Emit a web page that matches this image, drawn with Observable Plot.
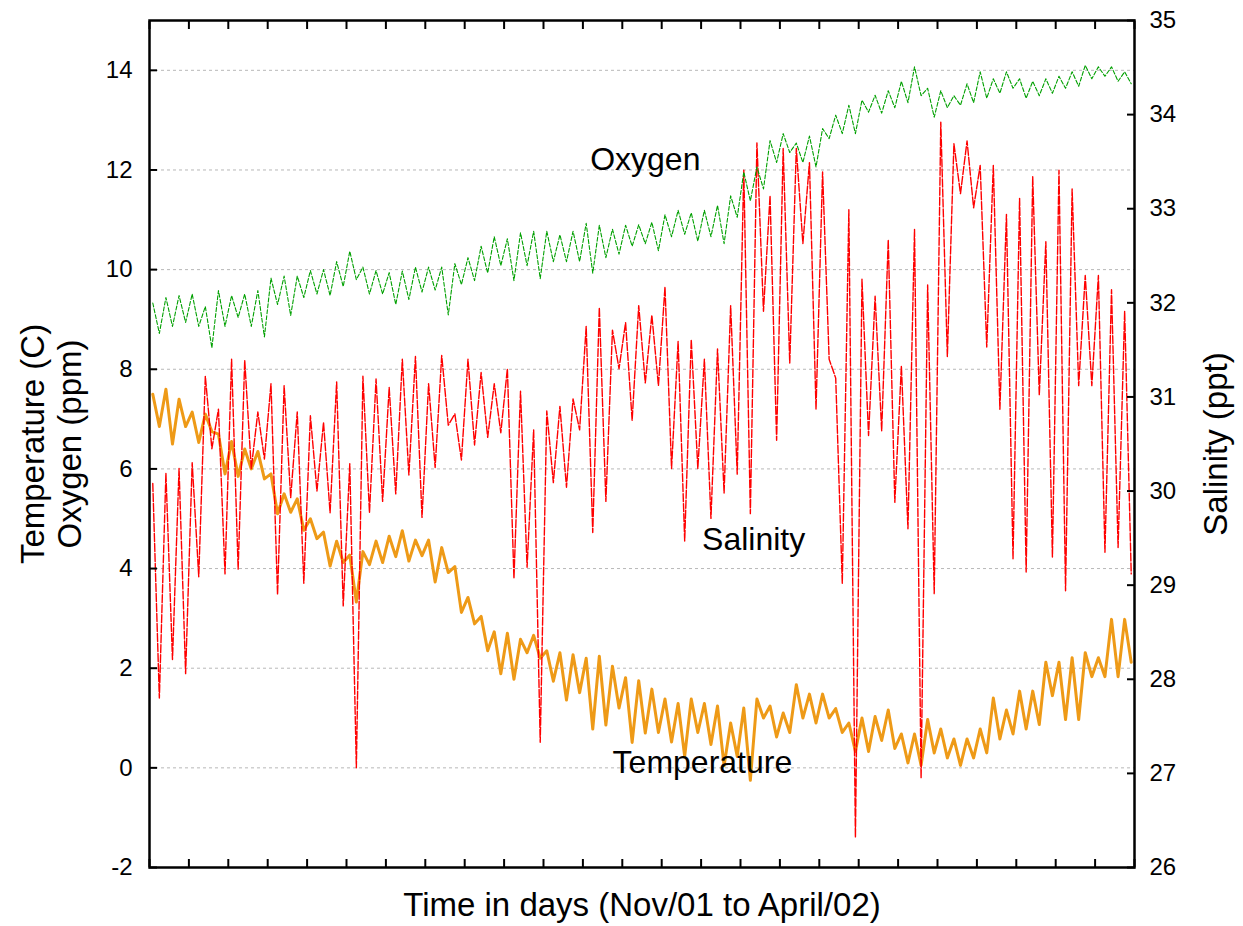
<!DOCTYPE html>
<html><head><meta charset="utf-8">
<script src="https://cdn.jsdelivr.net/npm/d3@7"></script>
<script src="https://cdn.jsdelivr.net/npm/@observablehq/plot@0.6"></script>
<style>
body{margin:0;background:#fff;font-family:"Liberation Sans",Arial,sans-serif}
#chart svg{overflow:visible}
</style>
</head><body><div id="chart"></div>
<script>
// Two-day sampling bins, days since Nov 1 2001
const binDay = [0,2,4,6,8,10,12,14,16,18,20,22,24,26,28,30,32,34,36,38,40,42,44,46,48,50,52,54,56,58,
  60,62,64,66,68,70,72,74,76,78,80,82,84,86,88,90,92,94,96,98,100,102,104,106,108,110,112,114,116,118,
  120,122,124,126,128,130,132,134,136,138,140,142,144,146,148];

// Temperature (C): high / low within each bin
const tempHi = [7.5,7.6,7.4,7.14,7.1,6.7,6.55,6.4,6.35,5.9,
  5.5,5.4,5.0,4.73,4.55,4.27,4.34,4.55,4.65,4.76,
  4.57,4.57,4.42,4.04,3.42,3.04,2.73,2.7,2.58,2.66,
  2.35,2.31,2.27,2.2,2.24,2.04,1.81,1.75,1.58,1.38,
  1.29,1.38,1.29,1.24,0.9,1.2,1.38,1.24,1.1,1.67,
  1.48,1.48,1.19,0.9,1.0,1.03,1.16,0.68,0.68,0.97,
  0.78,0.58,0.58,0.78,1.4,1.16,1.54,1.54,2.12,2.12,
  2.21,2.31,2.21,2.98,2.98];
const tempLo = [6.85,6.5,6.85,6.53,6.75,5.9,5.85,6.0,5.8,5.1,
  5.13,4.77,4.6,4.05,4.12,3.33,4.08,4.12,4.24,4.15,
  4.26,3.73,3.92,3.12,2.89,2.35,1.89,1.78,2.31,2.2,
  1.74,1.36,1.51,0.78,0.86,1.2,0.51,0.7,0.71,0.52,
  0.23,0.71,0.47,0.04,0.23,-0.25,1.0,0.62,0.71,1.0,
  0.9,1.0,0.71,0.33,0.33,0.55,0.39,0.1,0.05,0.3,
  0.2,0.05,0.2,0.3,0.58,0.68,0.78,0.87,1.45,0.97,
  0.97,1.83,1.83,1.83,2.12];

// Oxygen (ppm)
const oxyHi = [9.33,9.44,9.48,9.51,9.26,9.58,9.48,9.51,9.58,9.83,
  9.87,9.87,9.98,10.0,10.16,10.37,10.05,9.98,9.94,9.97,
  10.05,10.05,10.05,10.12,10.24,10.47,10.66,10.62,10.74,10.77,
  10.77,10.7,10.77,10.93,10.89,10.81,10.89,10.9,10.95,11.1,
  11.19,11.14,11.19,11.29,11.48,11.96,12.06,12.59,12.73,12.54,
  12.68,12.83,13.1,13.3,13.4,13.5,13.59,13.78,14.07,13.64,
  13.59,13.49,13.73,13.97,13.83,13.97,13.83,13.78,13.83,13.88,
  13.97,14.1,14.07,14.07,13.97];
const oxyLo = [8.72,8.86,8.94,8.86,8.43,8.86,9.04,8.86,8.65,9.3,
  9.08,9.44,9.51,9.48,9.66,9.8,9.51,9.51,9.3,9.4,
  9.55,9.59,9.09,9.7,9.78,9.93,10.08,9.78,10.08,9.82,
  10.16,10.16,10.16,9.93,10.24,10.31,10.47,10.52,10.38,10.66,
  10.71,10.57,10.66,10.52,11.05,11.38,11.62,12.15,12.35,12.15,
  12.06,12.63,12.73,12.73,13.16,13.14,13.25,13.35,13.49,13.06,
  13.25,13.3,13.35,13.44,13.54,13.64,13.44,13.49,13.54,13.64,
  13.68,13.83,13.88,13.78,13.73];

// Salinity (ppt)
const salHi = [30.08,30.19,30.24,30.30,31.22,30.87,31.40,31.39,30.84,31.14,
  31.12,30.84,30.80,30.73,31.16,30.29,31.22,31.19,31.10,31.40,
  31.43,31.14,31.44,30.82,31.40,31.26,31.14,31.30,31.06,30.65,
  30.85,30.90,30.98,31.75,31.95,31.71,31.79,31.97,31.87,32.17,
  31.59,31.61,31.40,31.51,31.97,33.41,33.70,33.14,33.64,33.64,
  33.49,33.39,31.20,32.99,32.25,32.07,32.67,31.33,32.78,32.19,
  33.92,33.69,33.72,33.46,33.46,32.94,33.11,33.34,32.65,33.41,
  33.21,32.29,32.29,32.14,31.91];
const salLo = [27.80,28.21,28.06,29.09,30.45,29.12,29.17,30.24,30.34,28.90,
  29.93,29.02,30.00,29.77,28.78,27.06,29.77,29.89,29.97,30.17,
  29.72,30.25,30.70,30.33,30.49,30.57,30.62,29.07,29.19,27.33,
  30.09,30.04,30.65,29.56,29.89,31.30,30.75,31.15,31.12,30.24,
  29.47,30.24,29.71,29.98,30.18,29.76,31.91,30.54,31.36,32.63,
  30.87,31.40,29.02,26.32,30.59,30.64,29.88,29.60,26.95,28.91,
  31.43,33.16,33.01,31.53,30.87,29.28,29.14,31.02,29.30,28.94,
  31.12,31.12,29.35,29.40,29.12];

// Axes
const leftTicks = [-2,0,2,4,6,8,10,12,14];
const gridTicks = [0,2,4,6,8,10,12,14];
const salTicks = [26,27,28,29,30,31,32,33,34,35];
const dayTicks = [0,6,12,18,24,30,36,42,48,54,60,66,72,78,84,90,96,102,108,114,120,126,132,138,144,150];

// In-plot series labels
const labelNames = ["Oxygen","Salinity","Temperature"];
const labelDays = [75.5,92,84.2];
const labelValues = [12.2,4.58,0.1];

// Left scale (C / ppm) spans -2..15, right scale (ppt) spans 26..35
const toLeft = s => -2 + (s - 26) * 17 / 9;
const toSal = v => 26 + (v + 2) * 9 / 17;

// zigzag through the high and low read for each bin
const zig = (hi, lo) => binDay.flatMap((d, i) => [{day: d + 0.5, v: hi[i]}, {day: d + 1.5, v: lo[i]}]);
const temperature = zig(tempHi, tempLo);
const oxygen = zig(oxyHi, oxyLo);
const salinity = zig(salHi, salLo);
const labels = labelNames.map((name, i) => ({name, day: labelDays[i], value: labelValues[i]}));

const font = "'Liberation Sans', Arial, sans-serif";
const chart = Plot.plot({
  width: 1243,
  height: 926,
  marginLeft: 149,
  marginRight: 109,
  marginTop: 20,
  marginBottom: 59,
  style: {fontFamily: font, background: "#fff", color: "#000"},
  x: {domain: [0, 150], axis: null},
  y: {domain: [-2, 15], axis: null},
  marks: [
    Plot.gridY(gridTicks, {stroke: "#b8b8b8", strokeOpacity: 1, strokeDasharray: "3,3"}),
    Plot.line(temperature, {x: "day", y: "v", stroke: "#ee9a17", strokeWidth: 3}),
    Plot.line(salinity, {x: "day", y: d => toLeft(d.v), stroke: "#ff0000", strokeWidth: 1.4, strokeDasharray: "8,2"}),
    Plot.line(oxygen, {x: "day", y: "v", stroke: "#00a000", strokeWidth: 1.1, strokeDasharray: "4,2"}),
    Plot.text(labels, {x: "day", y: "value", text: "name", fontSize: 32, fill: "#000"}),
    Plot.frame({stroke: "#000", strokeWidth: 2.5}),
    // left axis: labels + inward ticks
    Plot.axisY(leftTicks, {anchor: "left", tickSize: 0, tickPadding: 17, fontSize: 24, label: null,
      tickFormat: v => String(v)}),
    Plot.axisY(leftTicks, {anchor: "left", tickSize: 8, dx: 8, fill: "none", strokeWidth: 2}),
    // right axis (salinity)
    Plot.axisY(salTicks.map(toLeft), {anchor: "right", tickSize: 0, tickPadding: 15, fontSize: 24, label: null,
      tickFormat: v => String(Math.round(toSal(v)))}),
    Plot.axisY(salTicks.map(toLeft), {anchor: "right", tickSize: 8, dx: -8, fill: "none", strokeWidth: 2}),
    // x ticks top and bottom, inward
    Plot.axisX(dayTicks, {anchor: "bottom", tickSize: 8, dy: -8, fill: "none", strokeWidth: 2}),
    Plot.axisX(dayTicks, {anchor: "top", tickSize: 8, dy: 8, fill: "none", strokeWidth: 2}),
    // titles
    Plot.text(["Temperature (C)"], {frameAnchor: "left", textAnchor: "middle", lineAnchor: "middle", rotate: -90, dx: -116, fontSize: 33, fill: "#000"}),
    Plot.text(["Oxygen (ppm)"], {frameAnchor: "left", textAnchor: "middle", lineAnchor: "middle", rotate: -90, dx: -79, fontSize: 33, fill: "#000"}),
    Plot.text(["Salinity (ppt)"], {frameAnchor: "right", textAnchor: "middle", lineAnchor: "middle", rotate: -90, dx: 82, fontSize: 33, fill: "#000"}),
    Plot.text(["Time in days (Nov/01 to April/02)"], {frameAnchor: "bottom", textAnchor: "middle", lineAnchor: "middle", dy: 38, fontSize: 33, fill: "#000"})
  ]
});
document.getElementById("chart").append(chart);
</script>
</body></html>
